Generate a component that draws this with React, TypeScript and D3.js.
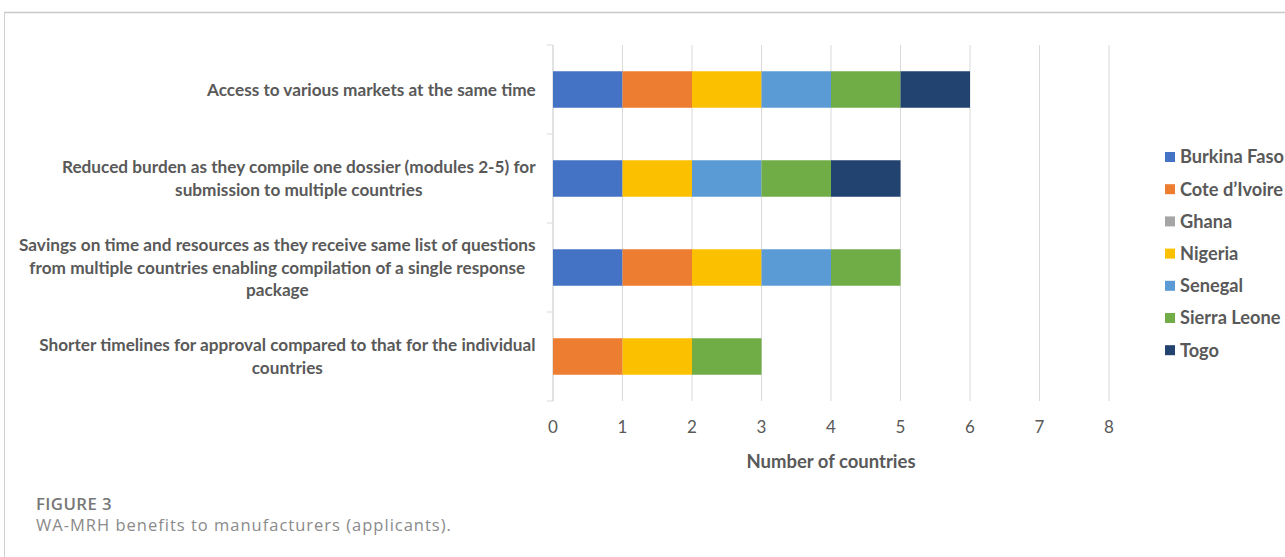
import React from "react";
import * as d3 from "d3";

// Survey responses: which countries reported each benefit
const categories: string[][] = [
  ["Access to various markets at the same time"],
  ["Reduced burden as they compile one dossier (modules 2-5) for", "submission to multiple countries"],
  [
    "Savings on time and resources as they receive same list of questions",
    "from multiple countries enabling compilation of a single response",
    "package",
  ],
  ["Shorter timelines for approval compared to that for the individual", "countries"],
];

const countries = ["Burkina Faso", "Cote d\u2019Ivoire", "Ghana", "Nigeria", "Senegal", "Sierra Leone", "Togo"];
const colors = ["#4472C4", "#ED7D31", "#A5A5A5", "#FBC000", "#5B9BD5", "#70AD47", "#22436F"];

const burkinaFaso = [1, 1, 1, 0];
const coteDIvoire = [1, 0, 1, 1];
const ghana = [0, 0, 0, 0];
const nigeria = [1, 1, 1, 1];
const senegal = [1, 1, 1, 0];
const sierraLeone = [1, 1, 1, 1];
const togo = [1, 1, 0, 0];

const seriesValues = [burkinaFaso, coteDIvoire, ghana, nigeria, senegal, sierraLeone, togo];
const xTicks = [0, 1, 2, 3, 4, 5, 6, 7, 8];

const W = 1285;
const H = 557;
const plotLeft = 553;
const plotRight = 1109;
const plotTop = 45;
const plotBottom = 401;

const labelFont = "700 17.2px Lato, 'Open Sans', sans-serif";

let ctx: CanvasRenderingContext2D | null = null;
function measure(text: string, font: string): number {
  if (!ctx) ctx = document.createElement("canvas").getContext("2d");
  if (!ctx) return text.length * 7;
  ctx.font = font;
  return ctx.measureText(text).width;
}

export default function App() {
  const x = d3.scaleLinear().domain([0, 8]).range([plotLeft, plotRight]);
  const y = d3
    .scaleBand<number>()
    .domain(categories.map((_, i) => i))
    .range([plotTop, plotBottom])
    .paddingInner(0.59)
    .paddingOuter(0.295);

  const rows = categories.map((_, i) => {
    const obj: Record<string, number> = {};
    countries.forEach((c, k) => (obj[c] = seriesValues[k][i]));
    return obj;
  });
  const stacked = d3.stack<Record<string, number>>().keys(countries)(rows);

  const band = (plotBottom - plotTop) / categories.length;
  const lineH = 22.8;

  return (
    <svg width={W} height={H} style={{ position: "absolute", left: 0, top: 0, background: "#fff" }}>
      {/* frame */}
      <line x1={4} x2={W} y1={12.5} y2={12.5} stroke="#c8c8c8" strokeWidth={1.5} />
      <line x1={4.5} x2={4.5} y1={12} y2={H} stroke="#d0d0d0" strokeWidth={1} />

      {/* vertical gridlines */}
      {xTicks.map((t) => (
        <line key={t} x1={x(t)} x2={x(t)} y1={plotTop} y2={plotBottom} stroke="#d9d9d9" strokeWidth={1} />
      ))}

      {/* category axis with ticks at band boundaries */}
      <line x1={plotLeft} x2={plotLeft} y1={plotTop} y2={plotBottom} stroke="#d9d9d9" />
      {d3.range(categories.length + 1).map((i) => (
        <line key={i} x1={plotLeft - 6} x2={plotLeft} y1={plotTop + i * band} y2={plotTop + i * band} stroke="#d9d9d9" />
      ))}

      {/* stacked bars */}
      {stacked.map((s, k) => (
        <g key={countries[k]} fill={colors[k]}>
          {s.map((d, i) =>
            d[1] - d[0] > 0 ? (
              <rect key={i} x={x(d[0])} y={y(i)!} width={x(d[1]) - x(d[0])} height={y.bandwidth()} />
            ) : null
          )}
        </g>
      ))}

      {/* category labels: centred block, right edge aligned */}
      {categories.map((lines, i) => {
        const maxW = Math.max(...lines.map((l) => measure(l, labelFont)));
        const cx = 536 - maxW / 2;
        const cy = y(i)! + y.bandwidth() / 2;
        const y0 = cy - ((lines.length - 1) * lineH) / 2;
        return (
          <text key={i} textAnchor="middle" fill="#595959" style={{ font: labelFont }}>
            {lines.map((l, j) => (
              <tspan key={j} x={cx} y={y0 + j * lineH} dy="0.35em">
                {l}
              </tspan>
            ))}
          </text>
        );
      })}

      {/* x tick labels */}
      {xTicks.map((t) => (
        <text
          key={t}
          x={x(t)}
          y={427}
          dy="0.35em"
          textAnchor="middle"
          fill="#595959"
          style={{ font: "400 17px Lato, 'Open Sans', sans-serif" }}
        >
          {t}
        </text>
      ))}
      <text
        x={x(4)}
        y={462}
        dy="0.35em"
        textAnchor="middle"
        fill="#595959"
        style={{ font: "700 18.5px Lato, 'Open Sans', sans-serif" }}
      >
        Number of countries
      </text>

      {/* legend */}
      {countries.map((c, k) => (
        <g key={c} transform={`translate(1165, ${157 + k * 32.2})`}>
          <rect x={0} y={-5} width={10} height={10} fill={colors[k]} />
          <text x={15} y={0} dy="0.35em" fill="#595959" style={{ font: "700 18.2px Lato, 'Open Sans', sans-serif" }}>
            {c}
          </text>
        </g>
      ))}

      {/* caption */}
      <text
        x={36}
        y={504}
        dy="0.35em"
        fill="#777"
        letterSpacing={0.4}
        style={{ font: "600 16.8px 'Open Sans', sans-serif" }}
      >
        FIGURE 3
      </text>
      <text
        x={36}
        y={525}
        dy="0.35em"
        fill="#8a8a8a"
        letterSpacing={1.0}
        style={{ font: "400 16.5px 'Open Sans', sans-serif" }}
      >
        WA-MRH benefits to manufacturers (applicants).
      </text>
    </svg>
  );
}
